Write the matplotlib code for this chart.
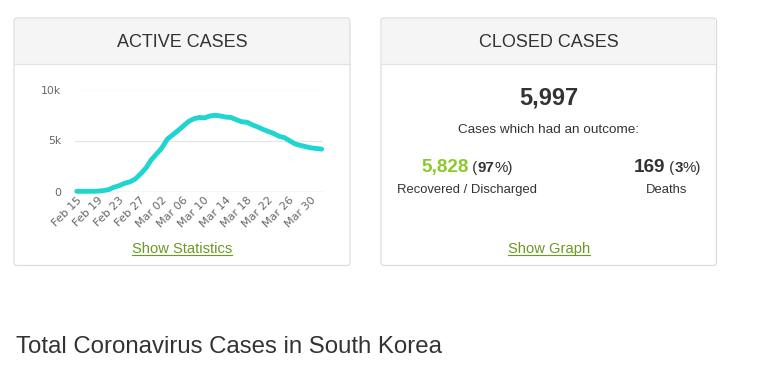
import matplotlib
matplotlib.use("Agg")
import matplotlib.pyplot as plt
from matplotlib.patches import FancyBboxPatch, Rectangle
from matplotlib.transforms import ScaledTranslation
import numpy as np

# ---------------- data ----------------
dates = ["Feb 15", "Feb 16", "Feb 17", "Feb 18", "Feb 19", "Feb 20", "Feb 21",
         "Feb 22", "Feb 23", "Feb 24", "Feb 25", "Feb 26", "Feb 27", "Feb 28",
         "Feb 29", "Mar 01", "Mar 02", "Mar 03", "Mar 04", "Mar 05", "Mar 06",
         "Mar 07", "Mar 08", "Mar 09", "Mar 10", "Mar 11", "Mar 12", "Mar 13",
         "Mar 14", "Mar 15", "Mar 16", "Mar 17", "Mar 18", "Mar 19", "Mar 20",
         "Mar 21", "Mar 22", "Mar 23", "Mar 24", "Mar 25", "Mar 26", "Mar 27",
         "Mar 28", "Mar 29", "Mar 30", "Mar 31", "Apr 01"]
active_cases = [19, 20, 20, 19, 35, 87, 187, 415, 578, 807, 945, 1227, 1731,
                2302, 3106, 3686, 4279, 5124, 5545, 5965, 6416, 6862, 7133,
                7259, 7212, 7407, 7470, 7402, 7300, 7253, 7024, 6838, 6789,
                6527, 6325, 6085, 5884, 5684, 5410, 5281, 4966, 4665, 4523,
                4398, 4275, 4216, 4155]
tick_labels = ["Feb 15", "Feb 19", "Feb 23", "Feb 27", "Mar 02", "Mar 06",
               "Mar 10", "Mar 14", "Mar 18", "Mar 22", "Mar 26", "Mar 30"]
y_ticks = [0, 5000, 10000]
y_tick_labels = ["0", "5k", "10k"]

closed_total = "5,997"
recovered = "5,828"
recovered_pct = "97"
deaths = "169"
deaths_pct = "3"

# ---------------- figure ----------------
W, H = 759, 378
fig = plt.figure(figsize=(W / 100, H / 100), dpi=100)
fig.patch.set_facecolor("white")

bg = fig.add_axes([0, 0, 1, 1])
bg.set_xlim(0, W)
bg.set_ylim(H, 0)
bg.axis("off")

TXT = "#333333"
FONT = ["Liberation Sans", "DejaVu Sans"]


def card(x0, x1, y0, y1, yh):
    bg.add_patch(FancyBboxPatch((x0, y0), x1 - x0, y1 - y0,
                                boxstyle="round,pad=0,rounding_size=3",
                                fc="white", ec="#dcdcdc", lw=0.9, zorder=1))
    bg.add_patch(Rectangle((x0 + 0.6, y0 + 0.6), x1 - x0 - 1.2, yh - y0 - 0.6,
                           fc="#f5f5f5", ec="none", zorder=2))
    bg.plot([x0 + 0.5, x1 - 0.5], [yh, yh], color="#e2e2e2", lw=0.9, zorder=3)


card(14, 350, 18, 265.5, 64)
card(381, 716.5, 18, 265.5, 64)

bg.text(182, 47.3, "ACTIVE CASES", ha="center", va="baseline",
        fontsize=13.0, color=TXT, family=FONT, zorder=5)
bg.text(549, 47.3, "CLOSED CASES", ha="center", va="baseline",
        fontsize=13.0, color=TXT, family=FONT, zorder=5)

bg.text(548.5, 105, closed_total, ha="center", va="baseline", fontsize=17.0,
        fontweight="bold", color=TXT, family=FONT, zorder=5)
bg.text(549, 132.7, "Cases which had an outcome:", ha="center", va="baseline",
        fontsize=9.7, color=TXT, family=FONT, zorder=5)

renderer = fig.canvas.get_renderer()


def multi(cx, y, parts):
    """parts: list of (text, size, weight, color) drawn side by side, centred at cx."""
    texts = []
    widths = []
    for s, size, weight, col in parts:
        t = bg.text(0, y, s, ha="left", va="baseline", fontsize=size,
                    fontweight=weight, color=col, family=FONT, zorder=5)
        bb = t.get_window_extent(renderer=renderer)
        texts.append(t)
        widths.append(bb.width)
    total = sum(widths)
    x = cx - total / 2
    for t, w in zip(texts, widths):
        t.set_x(x)
        x += w


GREEN = "#8aca2b"
multi(467, 171.7, [(recovered, 13.6, "bold", GREEN), (" (", 10.9, "normal", TXT),
                   (recovered_pct, 10.9, "bold", TXT), ("%)", 10.9, "normal", TXT)])
multi(667.5, 171.7, [(deaths, 13.6, "bold", TXT), (" (", 10.9, "normal", TXT),
                     (deaths_pct, 10.9, "bold", TXT), ("%)", 10.9, "normal", TXT)])
bg.text(467, 193.3, "Recovered / Discharged", ha="center", va="baseline",
        fontsize=9.35, color=TXT, family=FONT, zorder=5)
bg.text(667, 193.3, "Deaths", ha="center", va="baseline",
        fontsize=9.35, color=TXT, family=FONT, zorder=5)

LINK = "#6b9a22"


def link(cx, y, s):
    t = bg.text(cx, y, s, ha="center", va="baseline", fontsize=10.6,
                color=LINK, family=FONT, zorder=5)
    bb = t.get_window_extent(renderer=renderer)
    w = bb.width
    bg.plot([cx - w / 2, cx + w / 2], [y + 2.3, y + 2.3], color=LINK, lw=0.8,
            zorder=5)


link(182, 253, "Show Statistics")
link(549, 253, "Show Graph")

bg.text(15.5, 353, "Total Coronavirus Cases in South Korea", ha="left",
        va="baseline", fontsize=17.3, color=TXT, family=FONT, zorder=5)

# ---------------- chart ----------------
ax_l, ax_r, ax_b, ax_t = 75, 323, 191.5, 89.5
ax = fig.add_axes([ax_l / W, 1 - ax_b / H, (ax_r - ax_l) / W, (ax_b - ax_t) / H])
ax.set_zorder(10)
ax.patch.set_alpha(0)

x = np.arange(len(dates))
ax.plot(x, active_cases, color="#20d5cf", lw=3.5, solid_joinstyle="round",
        solid_capstyle="round", zorder=5, clip_on=False)

px_per_day = (321.7 - 76.7) / (len(dates) - 1)
ax.set_xlim(-(76.7 - ax_l) / px_per_day, (len(dates) - 1) + (ax_r - 321.7) / px_per_day)
ax.set_ylim(0, 10000)

for s in ax.spines.values():
    s.set_visible(False)
for yv in y_ticks[1:]:
    ax.axhline(yv, color="#e6e6e6", lw=0.9, zorder=1)
ax.axhline(0, color="#ccd6eb", lw=1.0, zorder=1)

ax.set_yticks(y_ticks)
ax.set_yticklabels(y_tick_labels)
tick_pos = [dates.index(lbl) for lbl in tick_labels]
ax.set_xticks(tick_pos)
ax.set_xticklabels(tick_labels)
ax.tick_params(axis="both", length=0, colors="#666666")
ax.tick_params(axis="y", pad=10.0, labelsize=7.8)
ax.tick_params(axis="x", pad=5.0, labelsize=8.0)
for lbl in ax.get_yticklabels():
    lbl.set_family("DejaVu Sans")
off = ScaledTranslation(3 / 100, 0, fig.dpi_scale_trans)
for lbl in ax.get_xticklabels():
    lbl.set_rotation(45)
    lbl.set_ha("right")
    lbl.set_va("center")
    lbl.set_rotation_mode("anchor")
    lbl.set_family("DejaVu Sans")
    lbl.set_transform(lbl.get_transform() + off)

fig.savefig("out.png", dpi=100, facecolor="white")
